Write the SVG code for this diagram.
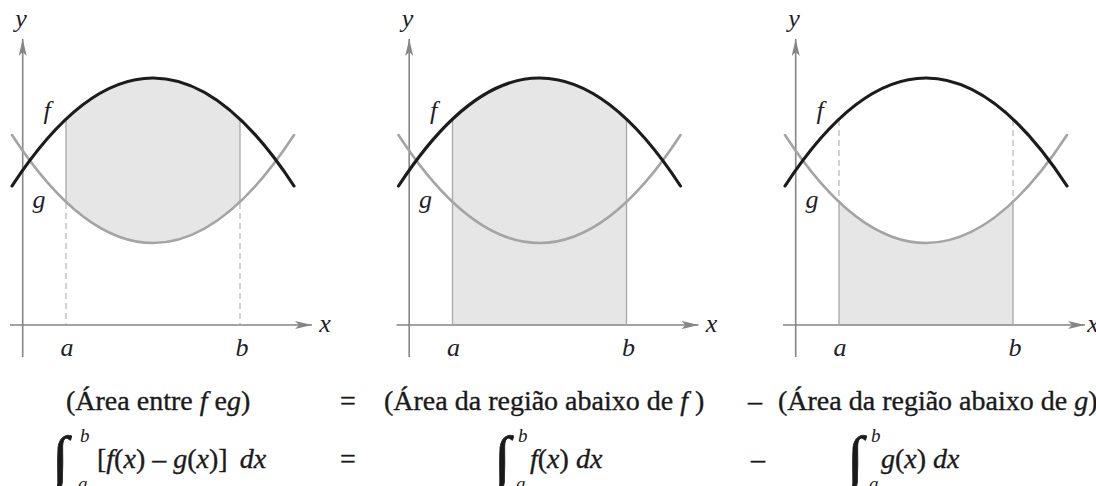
<svg xmlns="http://www.w3.org/2000/svg" width="1096" height="486" viewBox="0 0 1096 486">
<style>
.shade{fill:#e6e6e6;stroke:none}
.axis{stroke:#858585;stroke-width:1.6;fill:none}
.vline{stroke:#a8a8a8;stroke-width:1.3}
.dash{stroke:#c8c8c8;stroke-width:1.6;stroke-dasharray:6 4}
.fc{fill:none;stroke:#1c1c1c;stroke-width:3.2;stroke-linecap:round}
.gc{fill:none;stroke:#a4a4a4;stroke-width:2.6;stroke-linecap:round}
.lbl{font-family:"Liberation Serif",serif;font-style:italic;font-size:26px;fill:#1e1e28;text-anchor:middle}
.eq{font-family:"Liberation Serif",serif;font-size:28px;fill:#1a1a1a;stroke:#1a1a1a;stroke-width:0.35}
.it{font-style:italic}
.int{font-family:"Liberation Serif",serif;font-size:60px;fill:#1a1a1a;stroke:#1a1a1a;stroke-width:0.8}
.lim{font-family:"Liberation Serif",serif;font-style:italic;font-size:19px;fill:#1a1a1a}
</style>
<defs>
<marker id="arr" viewBox="0 0 17 8" refX="17" refY="4" markerWidth="17" markerHeight="8" markerUnits="userSpaceOnUse" orient="auto">
<path d="M0,0 L17,4 L0,8 L4,4 Z" fill="#858585"/>
</marker>
</defs>

<g id="panel1">
<path class="shade" d="M66,119.1 Q153,36.9 240,119.1 L240,201.9 Q153,284.1 66,201.9 Z"/>
<line class="axis" x1="10" y1="325" x2="312" y2="325" marker-end="url(#arr)"/>
<line class="axis" x1="22.7" y1="357" x2="22.7" y2="39" marker-end="url(#arr)"/>
<line class="vline" x1="66" y1="119.1" x2="66" y2="201.9"/>
<line class="vline" x1="240" y1="119.1" x2="240" y2="201.9"/>
<line class="dash" x1="66" y1="203" x2="66" y2="324"/>
<line class="dash" x1="240" y1="203" x2="240" y2="324"/>
<path class="gc" d="M12,135 Q153,351 294,135"/>
<path class="fc" d="M12,186 Q153,-30 294,186"/>
<text class="lbl" x="21" y="27">y</text>
<text class="lbl" x="325" y="332">x</text>
<text class="lbl" x="47" y="119">f</text>
<text class="lbl" x="39" y="208">g</text>
<text class="lbl" x="67" y="356">a</text>
<text class="lbl" x="242" y="356">b</text>
</g>

<g id="panel2" transform="translate(386.5,0)">
<path class="shade" d="M66,119.1 Q153,36.9 240,119.1 L240,325 L66,325 Z"/>
<line class="axis" x1="10" y1="325" x2="312" y2="325" marker-end="url(#arr)"/>
<line class="axis" x1="22.7" y1="357" x2="22.7" y2="39" marker-end="url(#arr)"/>
<line class="vline" x1="66" y1="119.1" x2="66" y2="325"/>
<line class="vline" x1="240" y1="119.1" x2="240" y2="325"/>
<path class="gc" d="M12,135 Q153,351 294,135"/>
<path class="fc" d="M12,186 Q153,-30 294,186"/>
<text class="lbl" x="21" y="27">y</text>
<text class="lbl" x="325" y="332">x</text>
<text class="lbl" x="47" y="119">f</text>
<text class="lbl" x="39" y="208">g</text>
<text class="lbl" x="67" y="356">a</text>
<text class="lbl" x="242" y="356">b</text>
</g>

<g id="panel3" transform="translate(773,0)">
<path class="shade" d="M66,201.9 Q153,284.1 240,201.9 L240,325 L66,325 Z"/>
<line class="axis" x1="10" y1="325" x2="312" y2="325" marker-end="url(#arr)"/>
<line class="axis" x1="22.7" y1="357" x2="22.7" y2="39" marker-end="url(#arr)"/>
<line class="vline" x1="66" y1="201.9" x2="66" y2="325"/>
<line class="vline" x1="240" y1="201.9" x2="240" y2="325"/>
<line class="dash" x1="66" y1="120" x2="66" y2="201"/>
<line class="dash" x1="240" y1="120" x2="240" y2="201"/>
<path class="gc" d="M12,135 Q153,351 294,135"/>
<path class="fc" d="M12,186 Q153,-30 294,186"/>
<text class="lbl" x="21" y="27">y</text>
<text class="lbl" x="320" y="332">x</text>
<text class="lbl" x="47" y="119">f</text>
<text class="lbl" x="39" y="208">g</text>
<text class="lbl" x="67" y="356">a</text>
<text class="lbl" x="242" y="356">b</text>
</g>

<g id="equation-words">
<text class="eq" x="66" y="410">(Área entre <tspan class="it">f</tspan> e<tspan class="it">g</tspan>)</text>
<text class="eq" x="348" y="410" text-anchor="middle">=</text>
<text class="eq" x="384" y="410">(Área da região abaixo de <tspan class="it">f</tspan> )</text>
<text class="eq" x="755" y="410" text-anchor="middle">–</text>
<text class="eq" x="778" y="410">(Área da região abaixo de <tspan class="it">g</tspan>)</text>
</g>

<g id="equation-integrals">
<text class="int" x="52" y="478">∫</text>
<text class="lim" x="80" y="442">b</text>
<text class="lim" x="78" y="490">a</text>
<text class="eq" x="97" y="468">[<tspan class="it">f</tspan>(<tspan class="it">x</tspan>) – <tspan class="it">g</tspan>(<tspan class="it">x</tspan>)] <tspan class="it" dx="5">dx</tspan></text>
<text class="eq" x="348" y="468" text-anchor="middle">=</text>
<text class="int" x="494" y="478">∫</text>
<text class="lim" x="518" y="442">b</text>
<text class="lim" x="516" y="490">a</text>
<text class="eq" x="530" y="468"><tspan class="it">f</tspan>(<tspan class="it">x</tspan>) <tspan class="it">dx</tspan></text>
<text class="eq" x="758" y="468" text-anchor="middle">–</text>
<text class="int" x="847" y="478">∫</text>
<text class="lim" x="871" y="442">b</text>
<text class="lim" x="869" y="490">a</text>
<text class="eq" x="881" y="468"><tspan class="it">g</tspan>(<tspan class="it">x</tspan>) <tspan class="it">dx</tspan></text>
</g>
</svg>
